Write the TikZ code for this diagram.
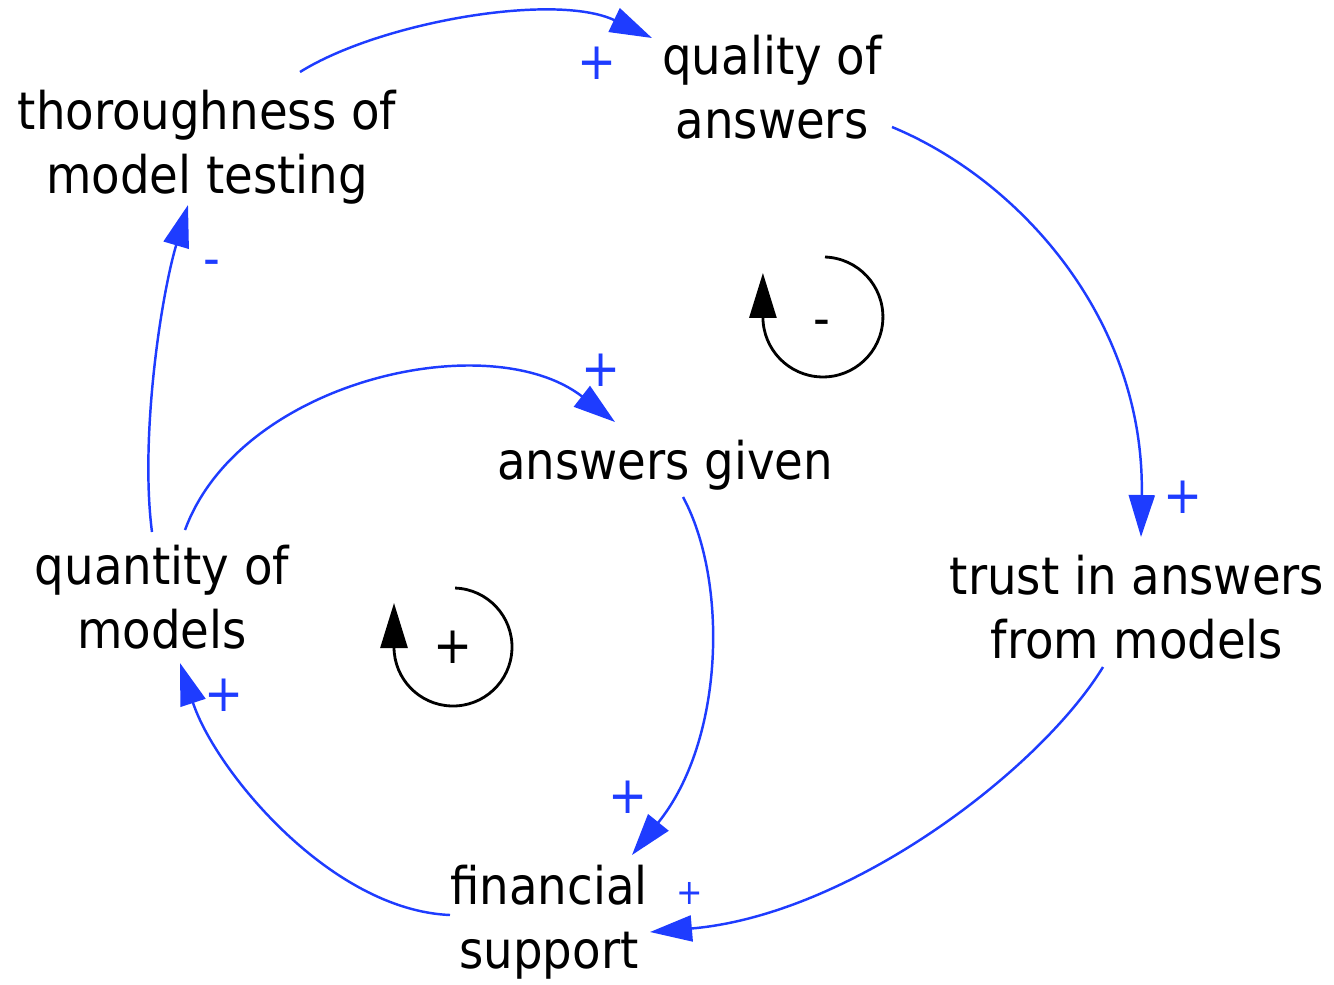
\documentclass[tikz,border=0pt]{standalone}
\usepackage{fontspec}
\setmainfont{DejaVu Sans Condensed}
\usetikzlibrary{arrows.meta}

\definecolor{linkblue}{RGB}{30,60,255}
\newcommand{\bigfont}{\fontsize{29.5}{36.4}\selectfont}

\tikzset{
var/.style = {anchor = base, align = center, inner sep = 0pt, font = \bigfont},
link/.style = {linkblue, line width = 1.4pt, -{Triangle[length = 0.84cm, width = 0.52cm]}},
sign/.style = {text = linkblue, inner sep = 0pt, font = \bigfont},
loopline/.style = {line width = 1.6pt, -{Triangle[length = 0.9cm, width = 0.54cm]}}
}

\begin{document}
\begin{tikzpicture}[x = 0.02cm, y = -0.02cm]
\useasboundingbox (0,0) rectangle (1334,984);

% base = baseline of the last line
\node[var] (v1) at (207,193) {thoroughness of\\model testing};
\node[var] (v2) at (772,138) {quality of\\answers};
\node[var] (v3) at (665,479) {answers given};
\node[var] (v4) at (162,648) {quantity of\\models};
\node[var] (v5) at (1137,658) {trust in answers\\from models};
\node[var] (v6) at (549,968) {financial\\support};

% polarities
\node[sign] (p1) at (597,63) {+};
\node[sign] (p2) at (1183,497) {+};
\node[sign, font = \fontsize{20}{24}\selectfont] (p3) at (690,893) {+};
\node[sign] (p4) at (224,695) {+};
\node[sign] (p5) at (212,268) {-};
\node[sign] (p6) at (601,370) {+};
\node[sign] (p7) at (628,797) {+};

\draw[link] ([shift = {(93,-121)}]v1.base) .. controls +(80,-50) and +(-97,-46) .. ([shift = {(-120,-100)}]v2.base);
\draw[link] ([shift = {(120,-11)}]v2.base) .. controls +(128,53) and +(4,-217) .. ([shift = {(4,-121)}]v5.base);
\draw[link] ([shift = {(-34,9)}]v5.base) .. controls +(-63,103) and +(200,-17) .. ([shift = {(101,-36)}]v6.base);
\draw[link] ([shift = {(-99,-53)}]v6.base) .. controls +(-120,-5) and +(35,107) .. ([shift = {(18,15)}]v4.base);
\draw[link] ([shift = {(-10,-116)}]v4.base) .. controls +(-12,-92) and +(-28,95) .. ([shift = {(-19,12)}]v1.base);
\draw[link] ([shift = {(23,-118)}]v4.base) .. controls +(55,-150) and +(-125,-97) .. ([shift = {(-50,-57)}]v3.base);
\draw[link] ([shift = {(18,18)}]v3.base) .. controls +(45,83) and +(93,-115) .. ([shift = {(83,-113)}]v6.base);

% loop markers
\node[sign, text = black] (l1) at (822,328) {-};
\node[sign, text = black] (l2) at (453,647) {+};
\draw[loopline] ([shift = {(3,-71)}]l1.center) arc[start angle = -88, end angle = 180, radius = 60] -- ++(0,-44);
\draw[loopline] ([shift = {(-88:59)}]l2.center) arc[start angle = -88, end angle = 180, radius = 59] -- ++(0,-44);
\end{tikzpicture}
\end{document}
